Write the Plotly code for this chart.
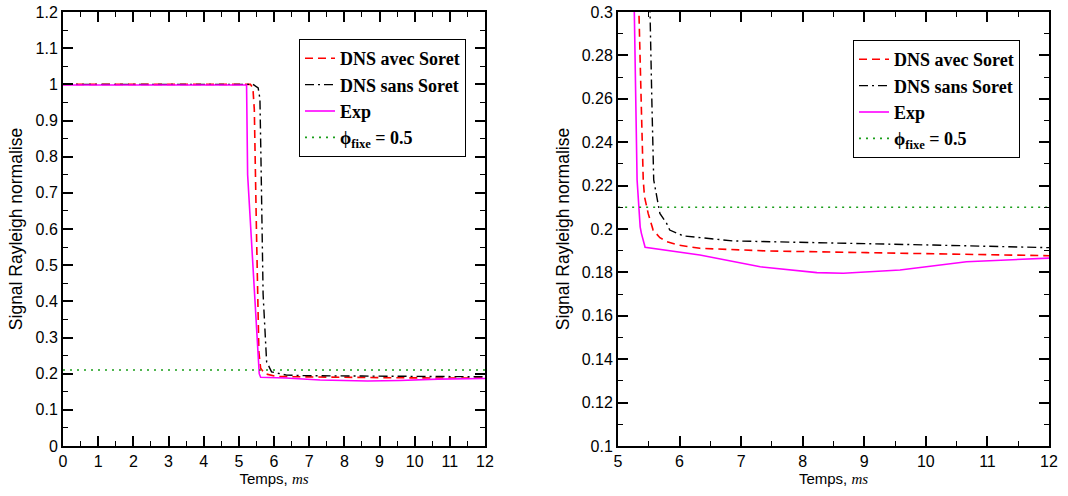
import plotly.graph_objects as go

# ---- Data: left panel (full view) ----
red_l_x = [0, 5.33, 5.40, 5.44, 5.50, 5.57, 5.62, 5.74, 6.07, 7.41, 9.04, 10.66, 12.0]
red_l_y = [1.0, 1.0, 0.99, 0.93, 0.60, 0.26, 0.215, 0.200, 0.192, 0.190, 0.189, 0.188, 0.1877]
blk_l_x = [0, 5.40, 5.55, 5.60, 5.63, 5.69, 5.79, 5.93, 6.36, 6.87, 8.5, 10.12, 12.0]
blk_l_y = [1.0, 1.0, 0.99, 0.96, 0.79, 0.42, 0.233, 0.205, 0.196, 0.1945, 0.1934, 0.1926, 0.1914]
mag_l_x = [0, 5.22, 5.25, 5.58, 5.62, 6.33, 7.31, 8.23, 8.66, 9.58, 10.66, 12.0]
mag_l_y = [0.998, 0.998, 0.75, 0.20, 0.19, 0.188, 0.1826, 0.1799, 0.1796, 0.1811, 0.1849, 0.1866]

# ---- Data: right panel (zoom) ----
red_r_x = [0, 5.25, 5.30, 5.34, 5.38, 5.41, 5.43, 5.49, 5.57, 5.68, 5.79, 6.0, 6.33, 7.41, 9.04, 10.66, 12.0]
red_r_y = [1.0, 1.0, 0.50, 0.30, 0.255, 0.2226, 0.2149, 0.2072, 0.1995, 0.196, 0.1942, 0.1925, 0.1911, 0.1899, 0.1891, 0.1883, 0.1877]
blk_r_x = [0, 5.40, 5.47, 5.52, 5.55, 5.58, 5.68, 5.79, 5.84, 6.06, 6.87, 8.5, 10.12, 12.0]
blk_r_y = [1.0, 1.0, 0.50, 0.30, 0.259, 0.2226, 0.2072, 0.2026, 0.1995, 0.1968, 0.1945, 0.1934, 0.1926, 0.1914]
mag_r_x = [0, 5.20, 5.24, 5.265, 5.31, 5.33, 5.36, 5.38, 5.44, 6.33, 7.31, 8.23, 8.66, 9.58, 10.66, 12.0]
mag_r_y = [1.0, 1.0, 0.45, 0.30, 0.2226, 0.2134, 0.201, 0.198, 0.1916, 0.188, 0.1826, 0.1799, 0.1796, 0.1811, 0.1849, 0.1866]

phi_x = [0, 12]
phi_y = [0.21, 0.21]

names = ["DNS avec Soret", "DNS sans Soret", "Exp", "\u03d5<sub>fixe</sub> = 0.5"]

fig = go.Figure()

def add_panel(xa, ya, legend, rx, ry, bx, by, mx, my):
    fig.add_trace(go.Scatter(x=rx, y=ry, mode="lines", name=names[0],
                             line=dict(color="#ff0000", width=1.6, dash="8px,5px"),
                             xaxis=xa, yaxis=ya, legend=legend))
    fig.add_trace(go.Scatter(x=bx, y=by, mode="lines", name=names[1],
                             line=dict(color="#000000", width=1.4, dash="9px,4px,2px,4px"),
                             xaxis=xa, yaxis=ya, legend=legend))
    fig.add_trace(go.Scatter(x=mx, y=my, mode="lines", name=names[2],
                             line=dict(color="#ff00ff", width=1.6),
                             xaxis=xa, yaxis=ya, legend=legend))
    fig.add_trace(go.Scatter(x=phi_x, y=phi_y, mode="lines", name=names[3],
                             line=dict(color="#1a9e1a", width=1.6, dash="2px,5px"),
                             xaxis=xa, yaxis=ya, legend=legend))

add_panel("x", "y", "legend", red_l_x, red_l_y, blk_l_x, blk_l_y, mag_l_x, mag_l_y)
add_panel("x2", "y2", "legend2", red_r_x, red_r_y, blk_r_x, blk_r_y, mag_r_x, mag_r_y)

tickfont = dict(family="Liberation Sans, Arial, sans-serif", size=16, color="black")
xtitlefont = dict(family="Liberation Sans, Arial, sans-serif", size=15, color="black")
ytitlefont = dict(family="Liberation Sans, Arial, sans-serif", size=17.5, color="black")
xtitle = "Temps, <span style='font-family:Liberation Serif;font-style:italic'>ms</span>"

def axis_common():
    return dict(showline=True, linewidth=2, linecolor="black", mirror="ticks",
                ticks="inside", ticklen=10, tickwidth=1.5, tickcolor="black",
                showgrid=False, zeroline=False, tickfont=tickfont, automargin=False)

legend_common = dict(bgcolor="white", bordercolor="black", borderwidth=1,
                     font=dict(family="Liberation Serif, Times New Roman, serif", size=18,
                               color="black", weight="bold"),
                     xanchor="left", yanchor="top", itemwidth=30, tracegroupgap=0)

fig.update_layout(
    width=1068, height=496,
    margin=dict(l=0, r=0, t=12, b=50, autoexpand=False),
    paper_bgcolor="white", plot_bgcolor="white",
    showlegend=True,
    xaxis=dict(domain=[63/1068, 485/1068], range=[0, 12], dtick=1, tick0=0,
               minor=dict(ticks="inside", dtick=0.5, ticklen=5, tickwidth=1.2, tickcolor="black"),
               title=dict(text=xtitle, font=xtitlefont, standoff=4),
               anchor="y", **axis_common()),
    yaxis=dict(domain=[0, 1], range=[0, 1.2], dtick=0.1, tick0=0,
               minor=dict(ticks="inside", dtick=0.05, ticklen=5, tickwidth=1.2, tickcolor="black"),
               title=dict(text="Signal Rayleigh normalise", font=ytitlefont, standoff=8),
               anchor="x", **axis_common()),
    xaxis2=dict(domain=[618/1068, 1049/1068], range=[5, 12], dtick=1, tick0=0,
                minor=dict(ticks="inside", dtick=0.5, ticklen=5, tickwidth=1.2, tickcolor="black"),
                title=dict(text=xtitle, font=xtitlefont, standoff=4),
                anchor="y2", **axis_common()),
    yaxis2=dict(domain=[0, 1], range=[0.1, 0.3], dtick=0.02, tick0=0,
                minor=dict(ticks="inside", dtick=0.01, ticklen=5, tickwidth=1.2, tickcolor="black"),
                title=dict(text="Signal Rayleigh normalise", font=ytitlefont, standoff=8),
                anchor="x2", **axis_common()),
    legend=dict(x=299/1068, y=1 - (39 - 12) / 434, **legend_common),
    legend2=dict(x=853/1068, y=1 - (40 - 12) / 434, **legend_common),
)

fig.write_html("out.html", config={"displayModeBar": False},
               post_script="document.body.style.margin='0';document.body.style.overflow='hidden';")
